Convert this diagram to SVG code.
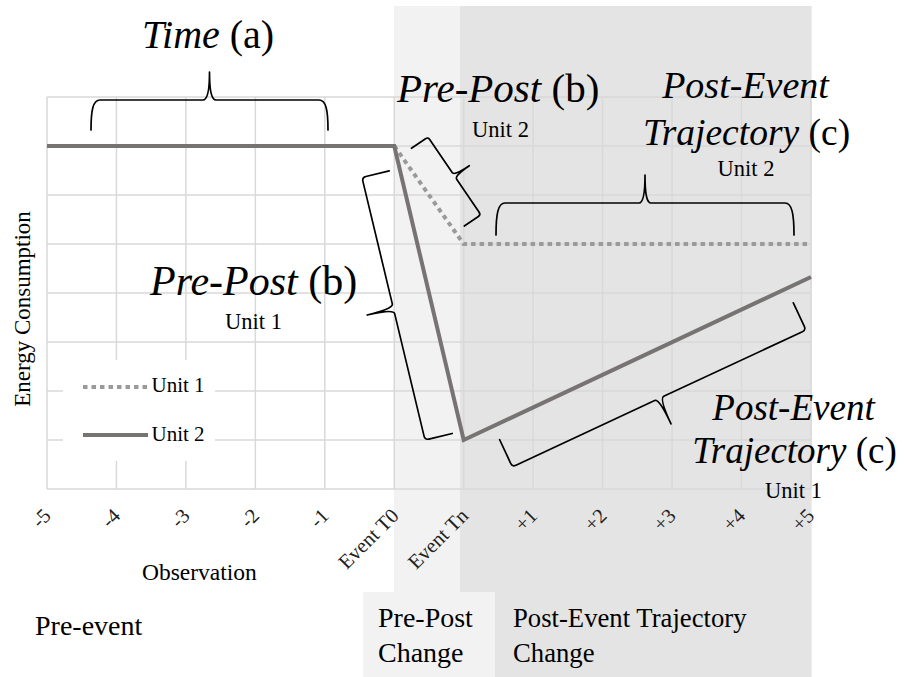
<svg xmlns="http://www.w3.org/2000/svg" width="907" height="677" viewBox="0 0 907 677">
<style>
text{font-family:"Liberation Serif","Times New Roman",serif;fill:#000}
.it{font-style:italic}
.big{font-size:40px}
.unit{font-size:22.5px}
.tick{font-size:20.5px;fill:#222}
.grid line{stroke:#d9d9d9;stroke-width:1.5}
.brace{fill:none;stroke:#000;stroke-width:1.7;stroke-linejoin:round;stroke-linecap:round}
.solid{fill:none;stroke:#787373;stroke-width:4;stroke-linejoin:miter}
.dot{fill:none;stroke:#9a9a9a;stroke-width:4;stroke-dasharray:4.5 4}
</style>
<rect width="907" height="677" fill="#fff"/>
<g id="shading">
<rect x="460" y="6" width="351.7" height="671" fill="#e4e4e4"/>
<rect x="394" y="6" width="66" height="586" fill="#f2f2f2"/>
<rect x="363" y="592" width="132" height="85" fill="#f2f2f2"/>
</g>
<g id="grid" class="grid">
<line x1="47" y1="97" x2="47" y2="489"/>
<line x1="116.45" y1="97" x2="116.45" y2="489"/>
<line x1="185.9" y1="97" x2="185.9" y2="489"/>
<line x1="255.35" y1="97" x2="255.35" y2="489"/>
<line x1="324.8" y1="97" x2="324.8" y2="489"/>
<line x1="394.25" y1="97" x2="394.25" y2="489"/>
<line x1="463.7" y1="97" x2="463.7" y2="489"/>
<line x1="533.15" y1="97" x2="533.15" y2="489"/>
<line x1="602.6" y1="97" x2="602.6" y2="489"/>
<line x1="672.05" y1="97" x2="672.05" y2="489"/>
<line x1="741.5" y1="97" x2="741.5" y2="489"/>
<line x1="810.95" y1="97" x2="810.95" y2="489"/>
<line x1="47" y1="97" x2="811" y2="97"/>
<line x1="47" y1="146" x2="811" y2="146"/>
<line x1="47" y1="195" x2="811" y2="195"/>
<line x1="47" y1="244" x2="811" y2="244"/>
<line x1="47" y1="293" x2="811" y2="293"/>
<line x1="47" y1="342" x2="811" y2="342"/>
<line x1="47" y1="391" x2="811" y2="391"/>
<line x1="47" y1="440" x2="811" y2="440"/>
<line x1="47" y1="489" x2="811" y2="489"/>
</g>
<g id="series">
<path class="dot" d="M394.25,146 L463.7,244 L811,244"/>
<path class="solid" d="M47,146 L394.25,146 L463.7,440 L811,277"/>
</g>
<g id="legend">
<rect x="63" y="360" width="152" height="101" fill="#fff"/>
<line class="dot" x1="83" y1="387" x2="148" y2="387"/>
<line class="solid" x1="83" y1="435" x2="148" y2="435"/>
<text x="151.5" y="392" style="font-size:21px">Unit 1</text>
<text x="151.5" y="441" style="font-size:21px">Unit 2</text>
</g>
<g id="brace-time">
<path class="brace" transform="translate(91,100)" d="M0,30 C0,10 2,0 9,0 L112,0 C116,0 118.5,-8 118.5,-28 C118.5,-8 121,0 125,0 L228,0 C235,0 237,10 237,30"/>
<text x="142" y="48" class="big"><tspan class="it">Time</tspan> (a)</text>
</g>
<g id="brace-prepost-unit2">
<path class="brace" transform="translate(428,137) rotate(55.8)" d="M0,20 L0,3 Q0,0 3,0 L43,0 Q47,0 47,-18 Q47,0 51,0 L91,0 Q94,0 94,3 L94,20"/>
<text x="397" y="102" style="font-size:41px"><tspan class="it">Pre-Post</tspan> (b)</text>
<text x="472" y="137" class="unit">Unit 2</text>
</g>
<g id="brace-trajectory-unit2">
<path class="brace" transform="translate(496,203)" d="M0,32 C0,11 2,0 9,0 L143,0 C147,0 149,-8 149,-28 C149,-8 151,0 155,0 L289,0 C296,0 298,11 298,32"/>
<text x="745.5" y="98" text-anchor="middle" class="it" style="font-size:38px">Post-Event</text>
<text x="746.5" y="145" text-anchor="middle" style="font-size:37.5px"><tspan class="it">Trajectory</tspan> (c)</text>
<text x="746" y="176" text-anchor="middle" class="unit">Unit 2</text>
</g>
<g id="brace-prepost-unit1">
<path class="brace" transform="translate(425,440) rotate(-103.5)" d="M0,28 L0,4 Q0,0 4,0 L130,0 Q135,0 135,-27 Q135,0 140,0 L266,0 Q270,0 270,4 L270,28"/>
<text x="150" y="295" style="font-size:42px"><tspan class="it">Pre-Post</tspan> (b)</text>
<text x="253.5" y="329" text-anchor="middle" class="unit">Unit 1</text>
</g>
<g id="brace-trajectory-unit1">
<path class="brace" transform="translate(806,330) rotate(155)" d="M0,30 L0,4 Q0,0 4,0 L157,0 Q162,0 162,-28 Q162,0 167,0 L320,0 Q324,0 324,4 L324,30"/>
<text x="793.5" y="420" text-anchor="middle" class="it" style="font-size:37px">Post-Event</text>
<text x="794.5" y="463" text-anchor="middle" style="font-size:37px"><tspan class="it">Trajectory</tspan> (c)</text>
<text x="793.5" y="498" text-anchor="middle" class="unit">Unit 1</text>
</g>
<g id="axis-labels">
<text transform="translate(30,309) rotate(-90)" text-anchor="middle" style="font-size:23px">Energy Consumption</text>
<text x="142" y="580" style="font-size:23.5px">Observation</text>
<text class="tick" text-anchor="end" transform="translate(52,517) rotate(-45)">-5</text>
<text class="tick" text-anchor="end" transform="translate(121.5,517) rotate(-45)">-4</text>
<text class="tick" text-anchor="end" transform="translate(191,517) rotate(-45)">-3</text>
<text class="tick" text-anchor="end" transform="translate(260.5,517) rotate(-45)">-2</text>
<text class="tick" text-anchor="end" transform="translate(330,517) rotate(-45)">-1</text>
<text class="tick" text-anchor="end" transform="translate(400,517) rotate(-45)">Event T0</text>
<text class="tick" text-anchor="end" transform="translate(469.5,517) rotate(-45)">Event Tn</text>
<text class="tick" text-anchor="end" transform="translate(538.5,517) rotate(-45)">+1</text>
<text class="tick" text-anchor="end" transform="translate(608,517) rotate(-45)">+2</text>
<text class="tick" text-anchor="end" transform="translate(677,517) rotate(-45)">+3</text>
<text class="tick" text-anchor="end" transform="translate(746.5,517) rotate(-45)">+4</text>
<text class="tick" text-anchor="end" transform="translate(815.5,517) rotate(-45)">+5</text>
</g>
<g id="phase-labels">
<text x="35" y="635" style="font-size:28px">Pre-event</text>
<text x="378" y="627" style="font-size:28px">Pre-Post</text>
<text x="378" y="662" style="font-size:28px">Change</text>
<text x="513" y="627" style="font-size:26.7px">Post-Event Trajectory</text>
<text x="513" y="662" style="font-size:26.7px">Change</text>
</g>
</svg>
